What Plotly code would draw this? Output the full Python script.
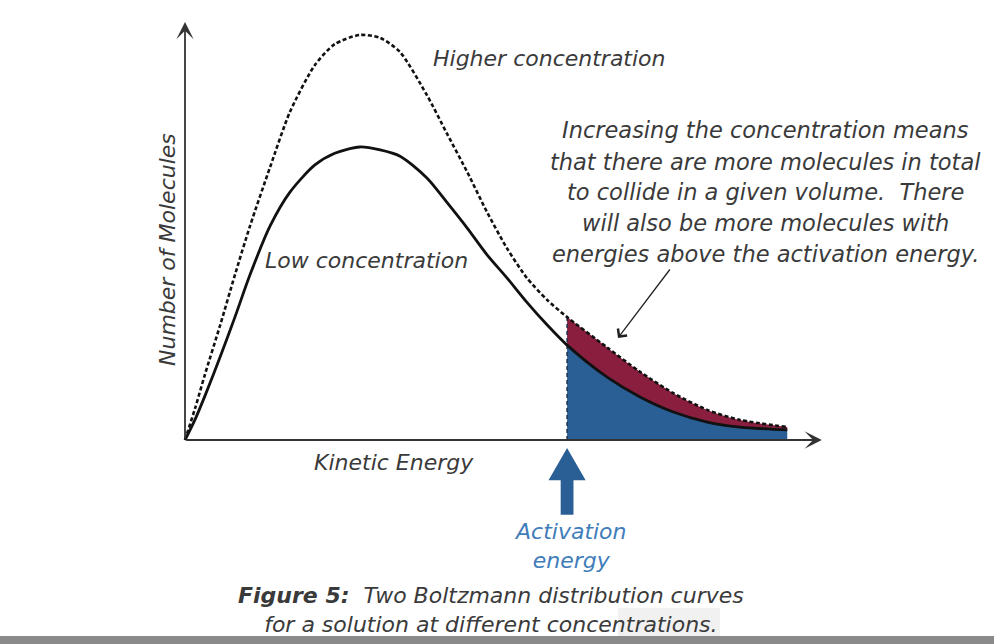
import plotly.graph_objects as go

W, H = 994, 644

# kinetic energy and number of molecules, arbitrary units
energy = [0, 0.16, 0.31, 0.55, 0.78, 1.02, 1.33, 1.64, 2.03, 2.34, 2.73, 3.05,
          3.36, 3.78, 4.09, 4.41, 4.72, 5.03, 5.34, 5.66, 5.97, 6.59, 7.11,
          7.63, 8.16, 8.67, 9.41]
low_conc = [0, 5.0, 10.5, 19.9, 29.4, 39.7, 51.2, 59.3, 65.8, 68.6, 70.1, 69.4,
            67.9, 62.7, 56.9, 50.7, 44.3, 38.8, 33.0, 27.5, 22.7, 15.1, 10.3,
            6.7, 4.3, 3.1, 2.4]
high_conc = [0, 7.7, 15.6, 27.5, 39.5, 51.4, 65.3, 78.5, 89.7, 94.7, 96.9, 96.2,
             92.8, 82.5, 73.4, 64.1, 54.5, 45.9, 38.8, 33.5, 29.4, 22.2, 16.3,
             11.2, 7.2, 4.8, 3.1]
activation_energy = 5.97
x_axis_end = 9.95
y_axis_end = 100

note_lines = [
    "Increasing the concentration means",
    "that there are more molecules in total",
    "to collide in a given volume.  There",
    "will also be more molecules with",
    "energies above the activation energy.",
]

COLORS = {
    "blue": "#2A5F96",
    "red": "#8A1E3E",
    "text": "#3a3a3a",
    "label_blue": "#3F7DBA",
}
FONT = "DejaVu Sans"

# pixel mapping: origin at (185, 440), 64 px per energy unit, 4.18 px per molecule unit
X0, Y0, SX, SY = 185, 440, 64, 4.18

tail = [i for i, e in enumerate(energy) if e >= activation_energy]
tail_e = [energy[i] for i in tail]
tail_low = [low_conc[i] for i in tail]
tail_high = [high_conc[i] for i in tail]

fig = go.Figure()

# blue area: molecules above activation energy (low concentration)
fig.add_trace(
    go.Scatter(
        x=tail_e, y=tail_low, mode="lines", line=dict(width=0, shape="spline"),
        fill="tozeroy", fillcolor=COLORS["blue"], hoverinfo="skip",
    )
)
# red area: extra molecules at the higher concentration
fig.add_trace(
    go.Scatter(
        x=tail_e, y=tail_high, mode="lines", line=dict(width=0, shape="spline"),
        fill="tonexty", fillcolor=COLORS["red"], hoverinfo="skip",
    )
)

# activation energy marker line
fig.add_trace(
    go.Scatter(
        x=[activation_energy, activation_energy], y=[0, tail_high[0]],
        mode="lines", line=dict(color="#1f2f4a", width=1.5, dash="4px,3px"),
        hoverinfo="skip",
    )
)

fig.add_trace(
    go.Scatter(
        x=energy, y=high_conc, mode="lines", name="Higher concentration",
        line=dict(color="#111111", width=2.6, dash="4px,2.5px", shape="spline", smoothing=0.7),
    )
)
fig.add_trace(
    go.Scatter(
        x=energy, y=low_conc, mode="lines", name="Low concentration",
        line=dict(color="#111111", width=2.8, shape="spline", smoothing=0.8),
    )
)

# big blue arrow pointing at the activation energy
hw, sw = 0.29, 0.1
tip, base, bottom = -1.9, -9.6, -17.9
fig.add_trace(
    go.Scatter(
        x=[activation_energy, activation_energy + hw, activation_energy + sw,
           activation_energy + sw, activation_energy - sw, activation_energy - sw,
           activation_energy - hw, activation_energy],
        y=[tip, base, base, bottom, bottom, base, base, tip],
        mode="lines", fill="toself", fillcolor=COLORS["blue"],
        line=dict(width=0), hoverinfo="skip",
    )
)

# axes with arrowheads
for ex, ey in [(0, y_axis_end), (x_axis_end, 0)]:
    fig.add_annotation(
        x=ex, y=ey, ax=0, ay=0, xref="x", yref="y", axref="x", ayref="y",
        text="", showarrow=True, arrowhead=3, arrowsize=1.6, arrowwidth=1.8,
        arrowcolor="#333333",
    )

# pointer to the red region
fig.add_annotation(
    x=(618 - X0) / SX, y=(Y0 - 338) / SY, ax=(671 - X0) / SX, ay=(Y0 - 268) / SY,
    xref="x", yref="y", axref="x", ayref="y", text="", showarrow=True,
    arrowhead=4, arrowsize=1.7, arrowwidth=1.3, arrowcolor="#222222",
)


def add_text(text, px, py, size, color=COLORS["text"], angle=0):
    fig.add_annotation(
        x=px / W, y=1 - py / H, xref="paper", yref="paper", text=text,
        showarrow=False, xanchor="center", yanchor="middle", align="center",
        textangle=angle, font=dict(family=FONT, size=size, color=color),
    )


add_text("<i>Higher concentration</i>", 549, 58, 22)
add_text("<i>Low concentration</i>", 366, 260, 22)
for line, py in zip(note_lines, [130, 162, 192, 223, 254]):
    add_text("<i>" + line + "</i>", 765, py, 22.5)
add_text("<i>Number of Molecules</i>", 167, 250, 22, angle=-90)
add_text("<i>Kinetic Energy</i>", 394, 462, 22)
add_text("<i>Activation<br>energy</i>", 570, 546, 22, color=COLORS["label_blue"])
add_text(
    "<b><i>Figure 5:</i></b><i>  Two Boltzmann distribution curves<br>"
    "for a solution at different concentrations.</i>",
    491, 610, 22,
)

fig.update_layout(
    width=W,
    height=H,
    margin=dict(l=0, r=0, t=0, b=0),
    showlegend=False,
    plot_bgcolor="white",
    paper_bgcolor="white",
    xaxis=dict(visible=False, range=[-X0 / SX, (W - X0) / SX]),
    yaxis=dict(visible=False, range=[(Y0 - H) / SY, Y0 / SY]),
    shapes=[
        dict(type="rect", xref="paper", yref="paper", x0=618 / W, x1=720 / W,
             y0=1 - 636 / H, y1=1 - 608 / H, fillcolor="#f1f1f1", line=dict(width=0),
             layer="below"),
        dict(type="rect", xref="paper", yref="paper", x0=0, x1=1,
             y0=0, y1=1 - 636 / H, fillcolor="#8a8a8a", line=dict(width=0)),
    ],
)

fig.write_html(
    "out.html",
    config={"displayModeBar": False},
    post_script="document.body.style.margin='0';document.body.style.overflow='hidden';",
)
